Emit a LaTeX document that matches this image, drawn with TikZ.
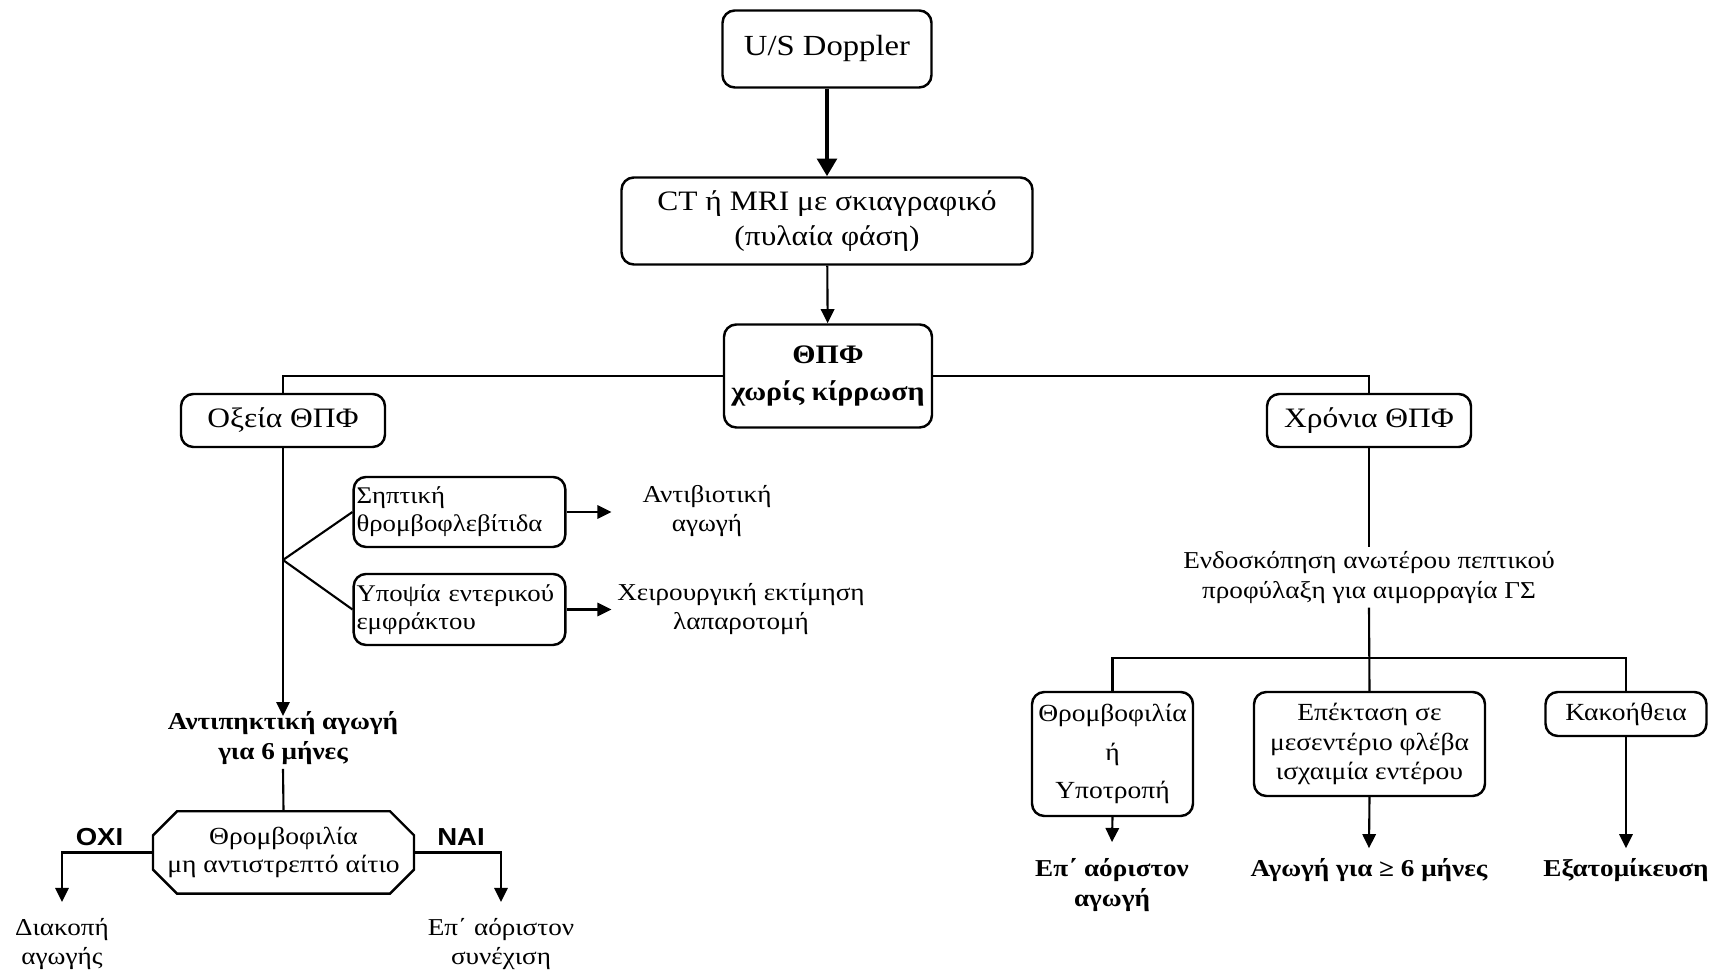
\documentclass[tikz,border=0pt]{standalone}
\usepackage{fontspec}
\setmainfont[FakeStretch=1.12]{Liberation Serif}
\newfontfamily\yesnofont[FakeStretch=1.12]{Liberation Sans}
\usetikzlibrary{arrows.meta,shapes.misc}

\begin{document}
\begin{tikzpicture}[
    box/.style={draw, line width=0.7pt, rounded corners=3.5pt, align=center, inner sep=1pt,
                font=\fontsize{8}{10}\selectfont},
    smallbox/.style={box, align=left, inner xsep=0.8pt, font=\fontsize{6.8}{8}\selectfont},
    octbox/.style={draw, line width=0.7pt, chamfered rectangle, chamfered rectangle xsep=0.12cm,
                chamfered rectangle ysep=0.12cm, align=center, inner xsep=0pt, inner ysep=1pt,
                font=\fontsize{7}{8.2}\selectfont},
    plain/.style={align=center, inner sep=1pt, font=\fontsize{6.9}{8.4}\selectfont},
    result/.style={plain, font=\fontsize{6.9}{8.6}\bfseries\selectfont},
    yesno/.style={inner sep=0pt, font=\fontsize{7}{8}\yesnofont\bfseries},
    link/.style={line width=0.6pt},
    arr/.style={link, -{Triangle[length=4pt,width=3.8pt]}}
  ]
  \useasboundingbox (0,0) rectangle (17.17,-9.74);

  % Drawing top boxes
  \node [box, minimum width=2.09cm, minimum height=0.77cm, font=\fontsize{8.3}{10}\selectfont] (doppler) at (8.27,-0.49) {U/S Doppler};
  \node [box, minimum width=4.11cm, minimum height=0.87cm] (imaging) at (8.27,-2.21) {CT ή MRI με σκιαγραφικό\\(πυλαία φάση)};
  \node [box, minimum width=2.08cm, minimum height=1.03cm, font=\fontsize{7.6}{10.5}\bfseries\selectfont] (thpf) at (8.28,-3.76) {ΘΠΦ\\χωρίς κίρρωση};

  % Drawing acute and chronic boxes
  \node [box, minimum width=2.04cm, minimum height=0.53cm] (acute) at (2.83,-4.205) {Οξεία ΘΠΦ};
  \node [box, minimum width=2.04cm, minimum height=0.53cm] (chronic) at (13.69,-4.205) {Χρόνια ΘΠΦ};

  % Drawing left branch
  \coordinate (split) at (2.83,-5.60);
  \node [smallbox, text width=2.06cm, minimum height=0.70cm] (septic) at (4.595,-5.12) {Σηπτική\\θρομβοφλεβίτιδα};
  \node [smallbox, text width=2.06cm, minimum height=0.71cm] (infarct) at (4.595,-6.095) {Υποψία εντερικού\\εμφράκτου};
  \node [plain] (antibio) at (7.07,-5.11) {Αντιβιοτική\\αγωγή};
  \node [plain] (surgery) at (7.41,-6.09) {Χειρουργική εκτίμηση\\λαπαροτομή};
  \node [result] (anticoag) at (2.83,-7.38) {Αντιπηκτική αγωγή\\για 6 μήνες};
  \node [octbox, minimum width=2.61cm, minimum height=0.77cm] (thrombo) at (2.835,-8.525) {Θρομβοφιλία\\μη αντιστρεπτό αίτιο};
  \node [yesno] (no) at (0.995,-8.37) {OXI};
  \node [yesno] (yes) at (4.61,-8.37) {NAI};
  \node [plain] (stop) at (0.62,-9.44) {Διακοπή\\αγωγής};
  \node [plain] (keep) at (5.01,-9.44) {Επ΄ αόριστον\\συνέχιση};

  % Drawing right branch
  \node [plain] (endo) at (13.69,-5.775) {Ενδοσκόπηση ανωτέρου πεπτικού\\προφύλαξη για αιμορραγία ΓΣ};
  \coordinate (tee) at (13.69,-6.58);
  \node [box, minimum width=1.61cm, minimum height=1.24cm, font=\fontsize{7}{11}\selectfont] (relapse) at (11.125,-7.54) {Θρομβοφιλία\\ή\\Υποτροπή};
  \node [box, minimum width=2.31cm, minimum height=1.04cm, font=\fontsize{7}{8.4}\selectfont] (extend) at (13.695,-7.44) {Επέκταση σε\\μεσεντέριο φλέβα\\ισχαιμία εντέρου};
  \node [box, minimum width=1.61cm, minimum height=0.44cm, font=\fontsize{7}{8.4}\selectfont] (malig) at (16.26,-7.14) {Κακοήθεια};
  \node [result] (indef) at (11.12,-8.85) {Επ΄ αόριστον\\αγωγή};
  \node [result] (sixmonths) at (13.69,-8.70) {Αγωγή για ≥ 6 μήνες};
  \node [result] (indiv) at (16.26,-8.70) {Εξατομίκευση};

  % Drawing top connectors
  \draw [line width=1.2pt, -{Triangle[length=5pt,width=5.5pt]}] (doppler) -- (imaging);
  \draw [arr] (imaging) -- (thpf);
  \draw [link] (thpf.west) -| (acute.north);
  \draw [link] (thpf.east) -| (chronic.north);

  % Drawing left connectors
  \draw [arr] (acute.south) -- ([yshift=-0.09cm]anticoag.north);
  \draw [link] (split) -- (septic.west);
  \draw [link] (split) -- (infarct.west);
  \draw [arr] (septic.east) -- ([xshift=0.45cm]septic.east);
  \draw [arr] (infarct.east) -- ([xshift=0.45cm]infarct.east);
  \draw [link] (anticoag.south) -- (thrombo.north);
  \draw [arr] (thrombo.west) -| ([yshift=0.12cm]stop.north);
  \draw [arr] (thrombo.east) -| ([yshift=0.12cm]keep.north);

  % Drawing right connectors
  \draw [link] (chronic.south) -- (endo.north);
  \draw [link] (endo.south) -- (extend.north);
  \draw [link] (relapse.north) |- (tee) -| (malig.north);
  \draw [arr] (relapse.south) -- ([yshift=0.12cm]indef.north);
  \draw [arr] (extend.south) -- ([yshift=0.06cm]sixmonths.north);
  \draw [arr] (malig.south) -- ([yshift=0.06cm]indiv.north);
\end{tikzpicture}
\end{document}
